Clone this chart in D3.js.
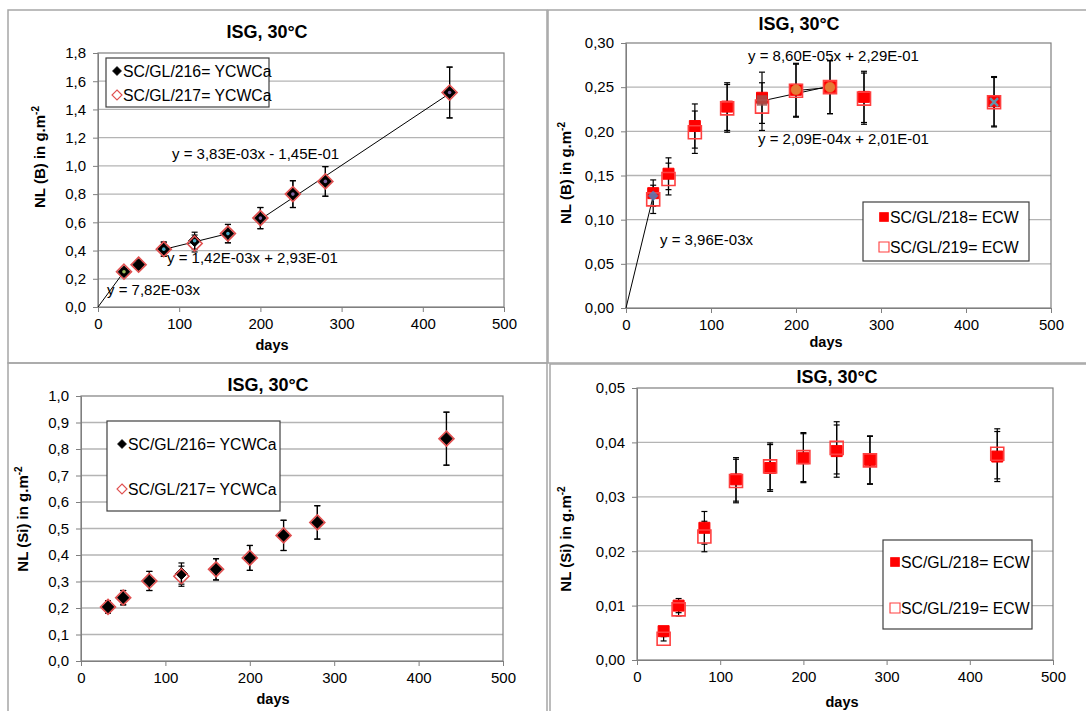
<!DOCTYPE html>
<html>
<head>
<meta charset="utf-8">
<script src="https://cdn.jsdelivr.net/npm/d3@7"></script>
<style>
  body { margin: 0; background: #fff; }
  text { font-family: "Liberation Sans", Arial, sans-serif; }
</style>
</head>
<body>
<svg id="chart" width="1086" height="711"></svg>
<script>
var days = [32, 50, 81, 119, 160, 200, 240, 280, 433]
var xTicks = [0, 100, 200, 300, 400, 500]

// NL(B), YCWCa glasses
var b216 = [0.25, 0.30, 0.41, 0.47, 0.52, 0.63, 0.80, 0.89, 1.52]
var b217 = [0.25, 0.30, 0.41, 0.45, 0.52, 0.63, 0.80, 0.89, 1.52]
var b216err = [0.02, 0.03, 0.05, 0.06, 0.065, 0.075, 0.095, 0.105, 0.18]
var b217err = [0.02, 0.03, 0.05, 0.06, 0.065, 0.075, 0.095, 0.105, 0.18]
var bYTicks = [0, 0.2, 0.4, 0.6, 0.8, 1.0, 1.2, 1.4, 1.6, 1.8]
var bFits = [
    {from: 0, to: 32, slope: 7.82e-3, icpt: 0, label: "y = 7,82E-03x"},
    {from: 81, to: 160, slope: 1.42e-3, icpt: 0.293, label: "y = 1,42E-03x + 2,93E-01"},
    {from: 200, to: 433, slope: 3.83e-3, icpt: -0.145, label: "y = 3,83E-03x - 1,45E-01"}
]
var bDotDays = [32, 81, 119, 160, 200, 240, 280, 433]
var bDotVals = [0.25, 0.41, 0.47, 0.52, 0.63, 0.80, 0.89, 1.52]
var bDotCols = ["#9bbb59", "#4bacc6", "#4bacc6", "#4bacc6", "#8064a2", "#8064a2", "#8064a2", "#8064a2"]

// NL(B), ECW glasses
var e218 = [0.130, 0.152, 0.206, 0.228, 0.238, 0.247, 0.250, 0.239, 0.234]
var e219 = [0.123, 0.146, 0.199, 0.226, 0.228, 0.246, 0.250, 0.237, 0.233]
var e218err = [0.015, 0.018, 0.025, 0.027, 0.029, 0.030, 0.030, 0.029, 0.028]
var e219err = [0.016, 0.018, 0.024, 0.027, 0.027, 0.030, 0.030, 0.029, 0.028]
var eYTicks = [0, 0.05, 0.10, 0.15, 0.20, 0.25, 0.30]
var eFits = [
    {from: 0, to: 32, slope: 3.96e-3, icpt: 0, label: "y = 3,96E-03x"},
    {from: 160, to: 240, slope: 2.09e-4, icpt: 0.201, label: "y = 2,09E-04x + 2,01E-01"},
    {from: 200, to: 240, slope: 8.60e-5, icpt: 0.229, label: "y = 8,60E-05x + 2,29E-01"}
]
var eExtraDays = [32, 160, 200, 240, 433]
var eExtraVals = [0.127, 0.235, 0.247, 0.250, 0.233]
var eExtraShapes = ["diamond", "square", "circle", "circle", "cross"]
var eExtraCols = ["#4f81bd", "#a0504c", "#e0913f", "#e0913f", "#4bacc6"]

// NL(Si), YCWCa glasses
var s216 = [0.204, 0.239, 0.302, 0.330, 0.346, 0.389, 0.474, 0.523, 0.839]
var s217 = [0.204, 0.239, 0.302, 0.320, 0.346, 0.389, 0.474, 0.523, 0.839]
var s216err = [0.023, 0.027, 0.036, 0.040, 0.040, 0.047, 0.057, 0.063, 0.10]
var s217err = [0.023, 0.027, 0.036, 0.038, 0.040, 0.047, 0.057, 0.063, 0.10]
var sYTicks = [0, 0.1, 0.2, 0.3, 0.4, 0.5, 0.6, 0.7, 0.8, 0.9, 1.0]

// NL(Si), ECW glasses
var t218 = [0.0053, 0.0100, 0.0243, 0.0332, 0.0353, 0.0371, 0.0384, 0.0368, 0.0374]
var t219 = [0.0039, 0.0093, 0.0227, 0.0329, 0.0356, 0.0373, 0.0390, 0.0367, 0.0379]
var t218err = [0.0006, 0.0013, 0.0030, 0.0040, 0.0043, 0.0045, 0.0048, 0.0044, 0.0046]
var t219err = [0.0004, 0.0012, 0.0028, 0.0040, 0.0043, 0.0045, 0.0048, 0.0044, 0.0046]
var tYTicks = [0, 0.01, 0.02, 0.03, 0.04, 0.05]

var svg = d3.select("#chart")
var comma = d3.formatLocale({decimal: ",", thousands: ".", grouping: [3], currency: ["", ""]})

function shapePath(shape, s) {
    if (shape == "diamond") return "M0," + (-s) + "L" + s + ",0L0," + s + "L" + (-s) + ",0Z"
    if (shape == "square") return "M" + (-s) + "," + (-s) + "h" + 2 * s + "v" + 2 * s + "h" + (-2 * s) + "Z"
    if (shape == "circle") return d3.symbol(d3.symbolCircle, Math.PI * s * s)()
    return "M" + (-s) + "," + (-s) + "L" + s + "," + s + "M" + s + "," + (-s) + "L" + (-s) + "," + s
}

function series(g, x, y, vals, errs) {
    var pts = days.map(function (d, i) { return {d: d, v: vals[i], e: errs[i]} })
    var eb = g.append("g").attr("stroke", "#000").attr("stroke-width", 1.2)
    pts.forEach(function (p) {
        eb.append("line").attr("x1", x(p.d)).attr("x2", x(p.d)).attr("y1", y(p.v - p.e)).attr("y2", y(p.v + p.e))
        eb.append("line").attr("x1", x(p.d) - 3).attr("x2", x(p.d) + 3).attr("y1", y(p.v - p.e)).attr("y2", y(p.v - p.e))
        eb.append("line").attr("x1", x(p.d) - 3).attr("x2", x(p.d) + 3).attr("y1", y(p.v + p.e)).attr("y2", y(p.v + p.e))
    })
    return pts
}

function markers(g, x, y, pts, opt) {
    g.selectAll(null).data(pts).enter().append("path")
        .attr("transform", function (p) { return "translate(" + x(p.d) + "," + y(p.v) + ")" })
        .attr("d", shapePath(opt.shape, opt.size))
        .attr("fill", opt.fill)
        .attr("stroke", opt.stroke)
        .attr("stroke-width", opt.sw)
}

function panel(cfg) {
    var g = svg.append("g")
    g.append("rect").attr("x", cfg.frame[0]).attr("y", cfg.frame[1])
        .attr("width", cfg.frame[2]).attr("height", cfg.frame[3])
        .attr("fill", "none").attr("stroke", "#a6a6a6").attr("stroke-width", 1.5)

    var x = d3.scaleLinear().domain([0, 500]).range([cfg.left, cfg.right])
    var y = d3.scaleLinear().domain([0, cfg.yTicks[cfg.yTicks.length - 1]]).range([cfg.bottom, cfg.top])

    g.selectAll(null).data(cfg.yTicks.slice(1, -1)).enter().append("line")
        .attr("x1", cfg.left).attr("x2", cfg.right)
        .attr("y1", function (d) { return y(d) }).attr("y2", function (d) { return y(d) })
        .attr("stroke", "#b4b4b4").attr("stroke-width", 1.3)

    g.append("rect").attr("x", cfg.left).attr("y", cfg.top)
        .attr("width", cfg.right - cfg.left).attr("height", cfg.bottom - cfg.top)
        .attr("fill", "none").attr("stroke", "#7f7f7f").attr("stroke-width", 1.2)

    var yAxis = g.append("g").attr("transform", "translate(" + cfg.left + ",0)")
        .call(d3.axisLeft(y).tickValues(cfg.yTicks).tickFormat(comma.format(cfg.fmt)).tickSize(5).tickSizeOuter(0).tickPadding(7))
    var xAxis = g.append("g").attr("transform", "translate(0," + cfg.bottom + ")")
        .call(d3.axisBottom(x).tickValues(xTicks).tickSize(5).tickSizeOuter(0).tickPadding(6))
    ;[yAxis, xAxis].forEach(function (a) {
        a.select(".domain").attr("stroke", "#7f7f7f")
        a.selectAll(".tick line").attr("stroke", "#7f7f7f")
        a.selectAll("text").attr("font-size", 15).attr("fill", "#000")
            .style("font-family", '"Liberation Sans", Arial, sans-serif')
    })

    g.append("text").attr("x", cfg.title[0]).attr("y", cfg.title[1]).attr("text-anchor", "middle")
        .attr("font-size", 18).attr("font-weight", "bold").text("ISG, 30°C")
    g.append("text").attr("x", cfg.xlab[0]).attr("y", cfg.xlab[1]).attr("text-anchor", "middle")
        .attr("font-size", 14.5).attr("font-weight", "bold").text("days")
    var yl = g.append("text").attr("transform", "translate(" + cfg.ylab[0] + "," + cfg.ylab[1] + ") rotate(-90)")
        .attr("text-anchor", "middle").attr("font-size", 15).attr("font-weight", "bold")
    yl.append("tspan").text(cfg.ylabel + " in g.m")
    yl.append("tspan").attr("font-size", 10).attr("dy", -6).text("-2")

    if (cfg.fits) {
        cfg.fits.forEach(function (f) {
            g.append("line").attr("x1", x(f.from)).attr("x2", x(f.to))
                .attr("y1", y(f.slope * f.from + f.icpt)).attr("y2", y(f.slope * f.to + f.icpt))
                .attr("stroke", "#000").attr("stroke-width", 1)
        })
    }

    var p1 = series(g, x, y, cfg.s1, cfg.e1)
    var p2 = series(g, x, y, cfg.s2, cfg.e2)
    markers(g, x, y, p1, cfg.m1)
    markers(g, x, y, p2, cfg.m2)
    if (cfg.extra) cfg.extra(g, x, y)

    if (cfg.fits) {
        cfg.fits.forEach(function (f, i) {
            g.append("text").attr("x", cfg.fitPos[i][0]).attr("y", cfg.fitPos[i][1])
                .attr("font-size", 15).attr("dy", "0.35em").text(f.label)
        })
    }

    var L = cfg.legend
    g.append("rect").attr("x", L.box[0]).attr("y", L.box[1]).attr("width", L.box[2]).attr("height", L.box[3])
        .attr("fill", "#fff").attr("stroke", "#404040").attr("stroke-width", 1.2)
    cfg.names.forEach(function (n, i) {
        var m = i == 0 ? cfg.m1 : cfg.m2
        g.append("path").attr("transform", "translate(" + L.mx + "," + L.rows[i] + ")")
            .attr("d", shapePath(m.shape, m.legendSize))
            .attr("fill", m.fill).attr("stroke", m.stroke).attr("stroke-width", m.sw * 0.7)
        g.append("text").attr("x", L.mx + 6).attr("y", L.rows[i]).attr("dy", "0.35em")
            .attr("font-size", 15.8).text(n)
    })
}

var diamondFill = {shape: "diamond", size: 6, fill: "#000", stroke: "#000", sw: 1, legendSize: 4.5}
var diamondOpen = {shape: "diamond", size: 7.5, fill: "none", stroke: "#e05050", sw: 1.6, legendSize: 5}
var squareFill = {shape: "square", size: 5.5, fill: "#ff0000", stroke: "#ff0000", sw: 1, legendSize: 4.5}
var squareOpen = {shape: "square", size: 6.5, fill: "none", stroke: "#ff4040", sw: 1.6, legendSize: 5}

panel({
    frame: [8, 10, 539, 353], left: 98, right: 504, top: 53, bottom: 307,
    yTicks: bYTicks, fmt: ".1f", ylabel: "NL (B)",
    title: [267, 38], xlab: [272, 350], ylab: [45, 157],
    s1: b216, e1: b216err, s2: b217, e2: b217err, m1: diamondFill, m2: diamondOpen,
    fits: bFits, fitPos: [[107, 290], [167, 258], [172, 154]],
    extra: function (g, x, y) {
        g.selectAll(null).data(bDotDays).enter().append("circle")
            .attr("cx", function (d) { return x(d) })
            .attr("cy", function (d, i) { return y(bDotVals[i]) })
            .attr("r", 1.8).attr("fill", function (d, i) { return bDotCols[i] })
    },
    names: ["SC/GL/216= YCWCa", "SC/GL/217= YCWCa"],
    legend: {box: [106, 58, 163, 49], mx: 117, rows: [71, 95]}
})

panel({
    frame: [548, 10, 545, 353], left: 626, right: 1051, top: 43, bottom: 308,
    yTicks: eYTicks, fmt: ".2f", ylabel: "NL (B)",
    title: [799, 30], xlab: [826, 347], ylab: [571, 173],
    s1: e218, e1: e218err, s2: e219, e2: e219err, m1: squareFill, m2: squareOpen,
    fits: eFits, fitPos: [[660, 240], [758, 139], [748, 56]],
    extra: function (g, x, y) {
        g.selectAll(null).data(eExtraDays).enter().append("path")
            .attr("transform", function (d, i) { return "translate(" + x(d) + "," + y(eExtraVals[i]) + ")" })
            .attr("d", function (d, i) { return shapePath(eExtraShapes[i], eExtraShapes[i] == "cross" ? 4 : 5) })
            .attr("fill", function (d, i) { return eExtraShapes[i] == "cross" ? "none" : eExtraCols[i] })
            .attr("stroke", function (d, i) { return eExtraCols[i] })
            .attr("stroke-width", function (d, i) { return eExtraShapes[i] == "cross" ? 2.5 : 0.5 })
            .attr("opacity", 0.85)
    },
    names: ["SC/GL/218= ECW", "SC/GL/219= ECW"],
    legend: {box: [863, 202, 166, 59], mx: 884, rows: [217, 247]}
})

panel({
    frame: [8, 363, 539, 360], left: 81, right: 503, top: 396, bottom: 661,
    yTicks: sYTicks, fmt: ".1f", ylabel: "NL (Si)",
    title: [268, 391], xlab: [273, 704], ylab: [28, 519],
    s1: s216, e1: s216err, s2: s217, e2: s217err, m1: diamondFill, m2: diamondOpen,
    names: ["SC/GL/216= YCWCa", "SC/GL/217= YCWCa"],
    legend: {box: [107, 421, 173, 90], mx: 122, rows: [444, 489]}
})

panel({
    frame: [550, 364, 545, 360], left: 637, right: 1053, top: 388, bottom: 660,
    yTicks: tYTicks, fmt: ".2f", ylabel: "NL (Si)",
    title: [837, 383], xlab: [842, 707], ylab: [571, 539],
    s1: t218, e1: t218err, s2: t219, e2: t219err, m1: squareFill, m2: squareOpen,
    names: ["SC/GL/218= ECW", "SC/GL/219= ECW"],
    legend: {box: [883, 540, 149, 89], mx: 895, rows: [562, 608]}
})
</script>
</body>
</html>
